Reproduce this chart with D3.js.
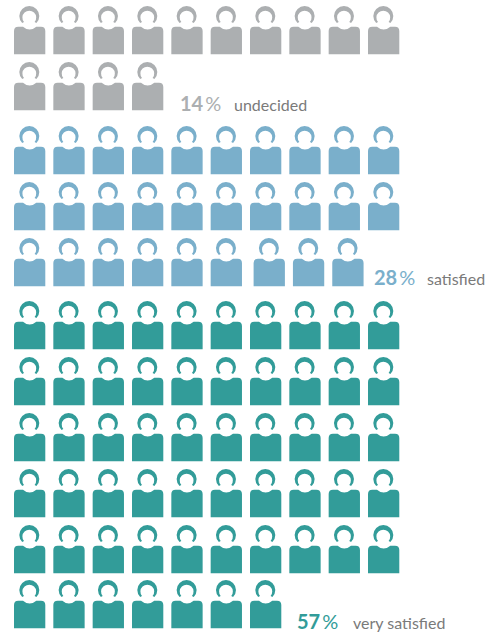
<!DOCTYPE html>
<html><head><meta charset="utf-8">
<script src="https://cdn.jsdelivr.net/npm/d3@7"></script>
<style>html,body{margin:0;padding:0;background:#fff}svg{display:block}text{font-family:Lato,"Open Sans",sans-serif}</style>
</head><body><svg id="c" width="486" height="634"></svg>
<script>
const categories = ["undecided","satisfied","very satisfied"];
const percents = [14,28,57];
const iconCounts = [14,29,57];
const colors = ["#acafb1","#7aafcb","#329c99"];
const firstRow = [0,2,5];
const perRow = 10;
const rowTop = [6,62,126,182,238,301,357,413,469,525,580];
const svg = d3.select("#c");
const x = d3.scaleLinear().domain([0,9]).range([14,368]);
const y = d3.scaleOrdinal().domain(d3.range(11)).range(rowTop);
const bodyPath = "M0 48.3 L0 25 Q0 20.7 4.3 20.7 L9 20.7 Q15.6 26.5 22.3 20.7 L27 20.7 Q31.3 20.7 31.3 25 L31.3 48.3 Z";
const headPath = "M8.2 17.05 A10 10 0 1 1 22.4 17.05 L20.6 16 A6.9 6.9 0 1 0 10 16 Z";
categories.forEach((c,i)=>{
  d3.range(iconCounts[i]).forEach(k=>{
    const r = firstRow[i]+Math.floor(k/perRow), col = k%perRow;
    const shift = (i===1 && r===4 && col>=6) ? 3.6 : 0;
    const g = svg.append("g").attr("transform",`translate(${x(col)+shift},${y(r)})`).attr("fill",colors[i]);
    g.append("path").attr("d",headPath);
    g.append("path").attr("d",bodyPath);
  });
});
const lab = [[180,111,234],[374,285,427],[297,629,353]];
categories.forEach((c,i)=>{
  const [px,py,tx]=lab[i];
  const t = svg.append("text").attr("x",px).attr("y",py).attr("fill",colors[i]).attr("font-size",20);
  t.append("tspan").attr("font-weight",700).text(percents[i]);
  t.append("tspan").attr("dx",2).attr("font-weight",400).text("%");
  svg.append("text").attr("x",tx).attr("y",py).attr("fill","#7a7a7a").attr("font-size",16).text(c);
});
</script></body></html>
